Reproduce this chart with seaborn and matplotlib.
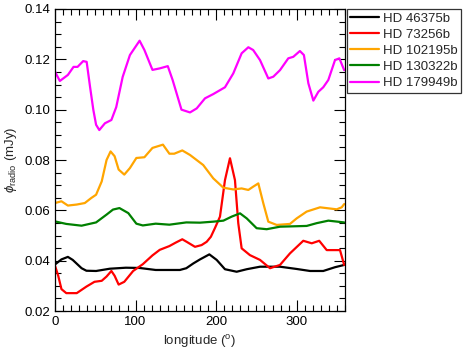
import numpy as np
import pandas as pd
import matplotlib
matplotlib.use("Agg")
import matplotlib.pyplot as plt
import seaborn as sns
from matplotlib.ticker import MultipleLocator

names = ["HD 46375b", "HD 73256b", "HD 102195b", "HD 130322b", "HD 179949b"]
colors = ["black", "red", "orange", "green", "magenta"]

x_46375 = [0, 8, 16, 22, 27, 33, 39, 51, 68, 88, 105, 125, 146, 155, 163, 171.7, 180, 191.6, 200.7, 211, 225.5, 238, 254.5, 279.3, 300, 316.6, 333, 347.6, 359]
y_46375 = [0.0385, 0.0405, 0.0415, 0.0403, 0.0388, 0.0370, 0.0360, 0.0359, 0.0368, 0.0372, 0.0371, 0.0363, 0.0363, 0.0363, 0.0370, 0.0389, 0.0405, 0.0425, 0.0403, 0.0366, 0.0356, 0.0366, 0.0376, 0.0376, 0.0367, 0.0359, 0.0359, 0.0374, 0.0383]

x_73256 = [0, 4, 8, 14, 27, 39, 49, 58, 64, 70, 74, 79, 86, 97, 109, 121, 130, 142, 150, 158, 163.4, 173.8, 182, 188.3, 193.5, 198.6, 204.8, 211, 217.2, 223.4, 227.5, 231.7, 242, 254.5, 266.9, 279.3, 291.7, 308.2, 318.7, 328, 337.3, 345.5, 353.8, 359]
y_73256 = [0.0380, 0.0340, 0.0287, 0.0271, 0.0271, 0.0297, 0.0316, 0.0320, 0.0337, 0.0359, 0.0340, 0.0305, 0.0316, 0.0359, 0.0386, 0.0421, 0.0443, 0.0458, 0.0472, 0.0485, 0.0475, 0.0455, 0.0462, 0.0475, 0.0495, 0.0530, 0.0575, 0.0720, 0.0807, 0.0720, 0.0549, 0.0449, 0.0422, 0.0403, 0.0370, 0.0383, 0.0429, 0.0479, 0.0469, 0.0479, 0.0442, 0.0442, 0.0442, 0.0383]

x_102195 = [0, 8, 16, 27, 37, 45, 51, 58, 64, 69, 74, 79, 86, 93, 101, 111, 121, 134, 142, 148, 158, 167.6, 184, 196.5, 209, 221.3, 231.7, 240, 246, 252.4, 258.6, 264.8, 275.2, 291.7, 300, 312.4, 329, 339.3, 349.7, 355.9, 359]
y_102195 = [0.0629, 0.0636, 0.0619, 0.0623, 0.0629, 0.0649, 0.0662, 0.0715, 0.0800, 0.0834, 0.0815, 0.0762, 0.0742, 0.0768, 0.0808, 0.0811, 0.0848, 0.0861, 0.0825, 0.0825, 0.0838, 0.0820, 0.0780, 0.0727, 0.0690, 0.0683, 0.0687, 0.0681, 0.0694, 0.0707, 0.0628, 0.0555, 0.0542, 0.0546, 0.0568, 0.0595, 0.0612, 0.0608, 0.0604, 0.0612, 0.0625]

x_130322 = [0, 14, 33, 51, 64, 72, 80, 91, 101, 109, 125, 142, 163, 180, 196.5, 209, 219.3, 229.7, 238, 250.3, 262.8, 279.3, 312.4, 324.8, 339.3, 359]
y_130322 = [0.0556, 0.0546, 0.0539, 0.0552, 0.0583, 0.0603, 0.0609, 0.0589, 0.0547, 0.0540, 0.0547, 0.0543, 0.0552, 0.0551, 0.0555, 0.0559, 0.0575, 0.0588, 0.0568, 0.0529, 0.0525, 0.0535, 0.0538, 0.0549, 0.0559, 0.0552]

x_179949 = [0, 6, 16, 23, 28, 35, 39.3, 43.5, 47.6, 51, 55, 62, 70, 76, 84, 93, 105, 111, 121, 130, 140, 146, 157, 167.6, 175.9, 186.2, 196.5, 211, 221.3, 231.7, 240, 246, 254.5, 264.8, 271, 279.3, 289.6, 295.8, 304, 309, 314.5, 320.7, 326.9, 333, 339.3, 347.6, 353, 359]
y_179949 = [0.1151, 0.1114, 0.1138, 0.1170, 0.1170, 0.1193, 0.1190, 0.1091, 0.0999, 0.0940, 0.0919, 0.0946, 0.0959, 0.1010, 0.1130, 0.1217, 0.1274, 0.1237, 0.1158, 0.1164, 0.1173, 0.1118, 0.1000, 0.0989, 0.1005, 0.1045, 0.1062, 0.1089, 0.1144, 0.1224, 0.1248, 0.1237, 0.1197, 0.1124, 0.1131, 0.1157, 0.1204, 0.1210, 0.1233, 0.1217, 0.1105, 0.1036, 0.1071, 0.1089, 0.1118, 0.1197, 0.1204, 0.1157]

series_x = [x_46375, x_73256, x_102195, x_130322, x_179949]
series_y = [y_46375, y_73256, y_102195, y_130322, y_179949]

frames = []
for n, xs, ys in zip(names, series_x, series_y):
    frames.append(pd.DataFrame({"longitude": xs, "flux": ys, "planet": n}))
df = pd.concat(frames, ignore_index=True)

sns.set_style("ticks")
plt.rcParams['font.family'] = ['Liberation Sans', 'DejaVu Sans']
plt.rcParams['mathtext.fontset'] = 'custom'
plt.rcParams['mathtext.rm'] = 'Liberation Sans'
plt.rcParams['mathtext.it'] = 'Liberation Sans:italic'

fig = plt.figure(figsize=(4.63, 3.59), dpi=100)
ax = fig.add_axes([55/463, 1-311/359, 290/463, 302/359])

sns.lineplot(data=df, x="longitude", y="flux", hue="planet", palette=dict(zip(names, colors)),
             hue_order=names, estimator=None, sort=False, linewidth=1.6, ax=ax)
for ln in ax.get_lines():
    ln.set_solid_joinstyle('round')

ax.set_xlim(0, 360)
ax.set_ylim(0.02, 0.14)
ax.xaxis.set_major_locator(MultipleLocator(100))
ax.xaxis.set_minor_locator(MultipleLocator(10))
ax.yaxis.set_major_locator(MultipleLocator(0.02))
ax.yaxis.set_minor_locator(MultipleLocator(0.005))
ax.yaxis.set_major_formatter(matplotlib.ticker.FormatStrFormatter('%.2f'))
ax.tick_params(which='both', direction='in', top=True, right=True, labelsize=9.5, colors='black')
ax.tick_params(which='major', length=8, width=0.8)
ax.tick_params(which='minor', length=4.5, width=0.8)
for s in ax.spines.values():
    s.set_linewidth(0.9)
    s.set_color('black')

ax.set_xlabel(r'longitude ($^{\rm o}$)', fontsize=9.5)
ax.set_ylabel(r'$\phi_{\rm radio}$ (mJy)', fontsize=9.5)

handles, labels = ax.get_legend_handles_labels()
leg = ax.legend(handles, labels, loc='upper left', bbox_to_anchor=(347/463, 1-9/359),
                bbox_transform=fig.transFigure, borderaxespad=0, fontsize=9.5,
                frameon=True, fancybox=False, edgecolor='black', handlelength=2.2,
                labelspacing=0.3, borderpad=0.25, handletextpad=0.3)
leg.get_frame().set_linewidth(0.9)

fig.savefig("out.png", dpi=100)
